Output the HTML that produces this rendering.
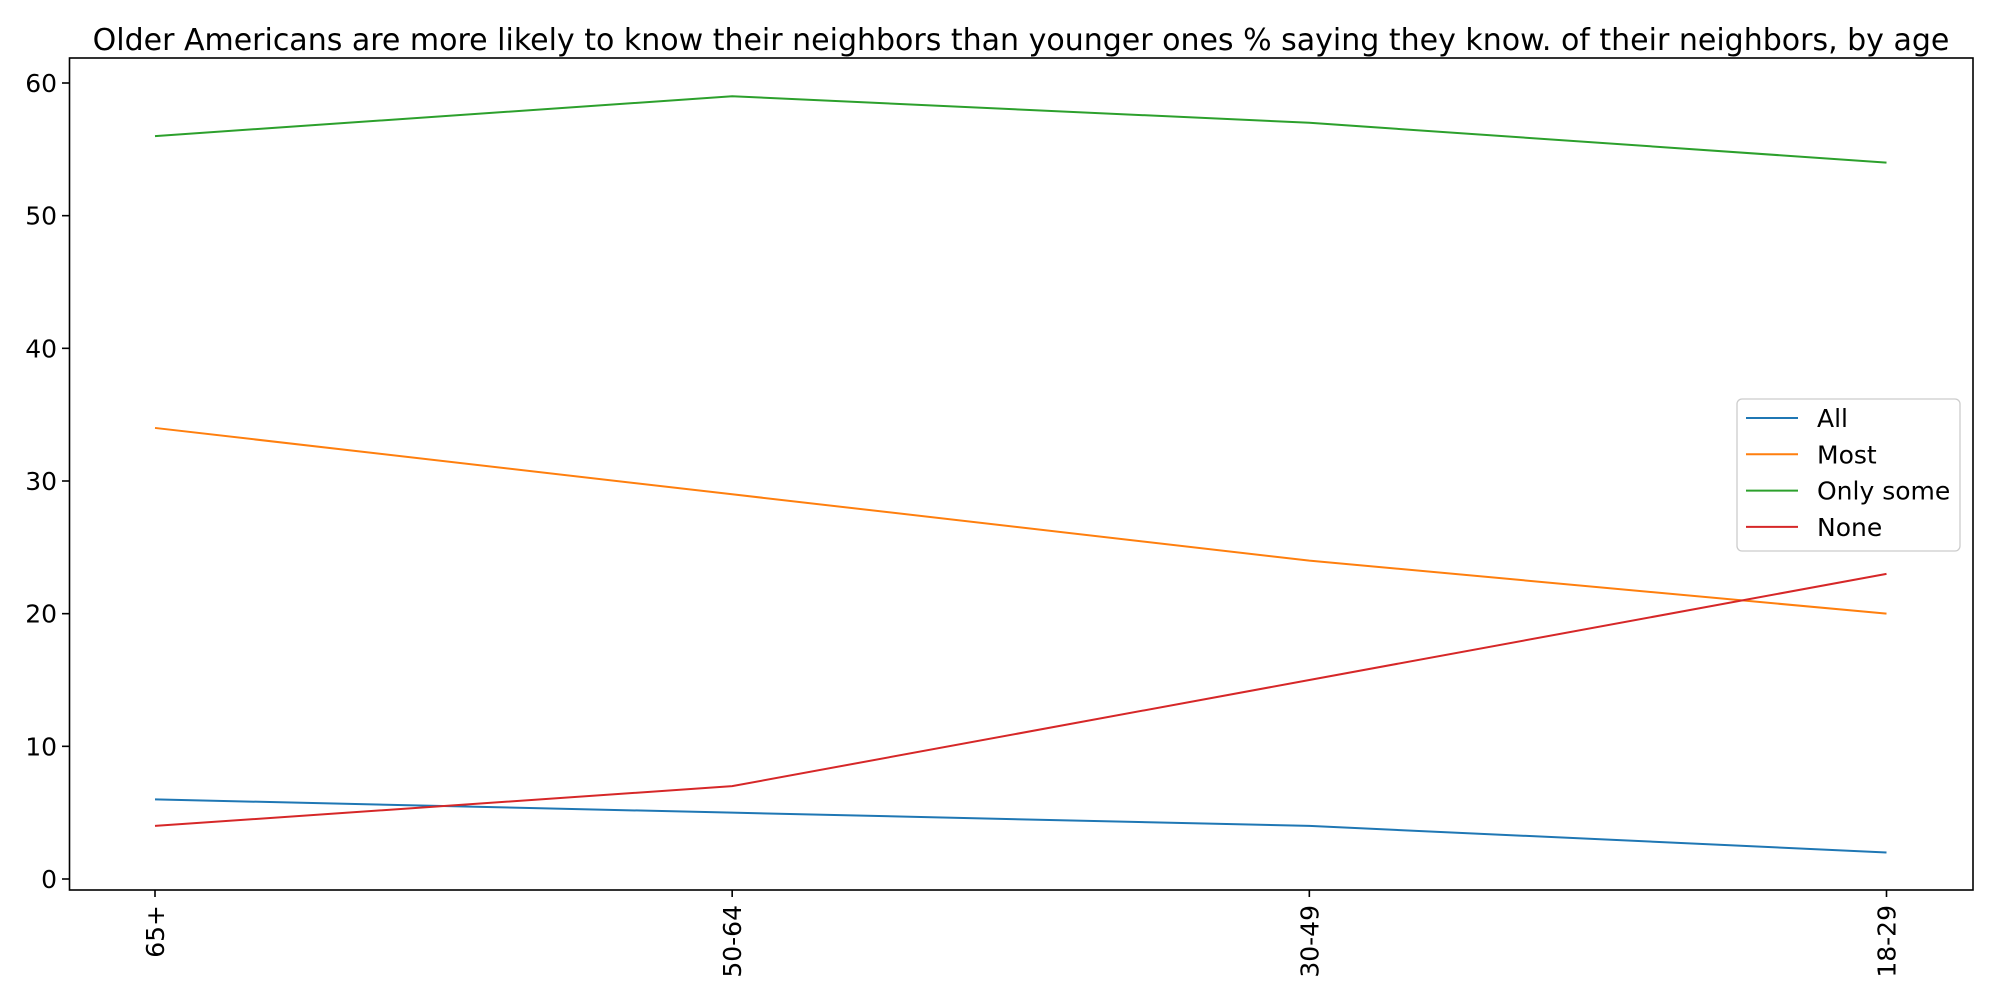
<!DOCTYPE html>
<html><head><meta charset="utf-8"><style>
body{margin:0;background:#fff;}
svg{display:block;font-family:"DejaVu Sans","Liberation Sans",sans-serif;}
</style></head><body>
<svg id="chart" width="2000" height="1000">
<text x="1021" y="50" font-size="30" text-anchor="middle">Older Americans are more likely to know their neighbors than younger ones % saying they know. of their neighbors, by age</text>
<g id="marks"></g>
<rect x="69.5" y="58" width="1903.5" height="832" fill="none" stroke="#000" stroke-width="1.6"/>
<g id="axes"></g>
<g>
<rect x="1737" y="399" width="223" height="152" rx="5" fill="#fff" fill-opacity="0.8" stroke="#ccc" stroke-width="1.3"/>
<g id="legend"></g>
</g>
</svg>
<script>
const categories=["65+","50-64","30-49","18-29"];
const seriesNames=["All","Most","Only some","None"];
const allVals=[6,5,4,2];
const mostVals=[34,29,24,20];
const someVals=[56,59,57,54];
const noneVals=[4,7,15,23];
const yTicks=[0,10,20,30,40,50,60];
const colors=["#1f77b4","#ff7f0e","#2ca02c","#d62728"];
const series=[allVals,mostVals,someVals,noneVals];
const NS="http://www.w3.org/2000/svg";
const xS=i=>155+i*(1886.5-155)/(categories.length-1);
const yS=v=>879-v*(879-83)/60;
function mk(t,a,p){const e=document.createElementNS(NS,t);for(const k in a)e.setAttribute(k,a[k]);p.appendChild(e);return e;}
const marks=document.getElementById('marks'),axes=document.getElementById('axes'),leg=document.getElementById('legend');
series.forEach((s,si)=>{
 const pl=mk('polyline',{points:s.map((v,i)=>xS(i)+','+yS(v)).join(' '),fill:'none',stroke:colors[si],'stroke-width':2},marks);
 
 
});
yTicks.forEach(v=>{
 const y=yS(v);
 const l=mk('line',{x1:62,x2:69.5,y1:y,y2:y,stroke:'#000','stroke-width':1.6},axes);
 
 
 const t=mk('text',{x:57,y:y+9,'font-size':25,'text-anchor':'end'},axes);t.textContent=v;
 
 
});
categories.forEach((c,i)=>{
 const x=xS(i);
 const l=mk('line',{x1:x,x2:x,y1:890,y2:897,stroke:'#000','stroke-width':1.6},axes);
 
 
 const t=mk('text',{x:0,y:0,'font-size':25,'text-anchor':'end',transform:`translate(${x+9},905) rotate(-90)`},axes);t.textContent=c;
 
 
});
seriesNames.forEach((n,i)=>{
 const y=418+i*36.3;
 const l=mk('line',{x1:1746,x2:1798,y1:y,y2:y,stroke:colors[i],'stroke-width':2},leg);
 
 
 const t=mk('text',{x:1817,y:y+9,'font-size':25},leg);t.textContent=n;
 
 
});
</script>
</body></html>
